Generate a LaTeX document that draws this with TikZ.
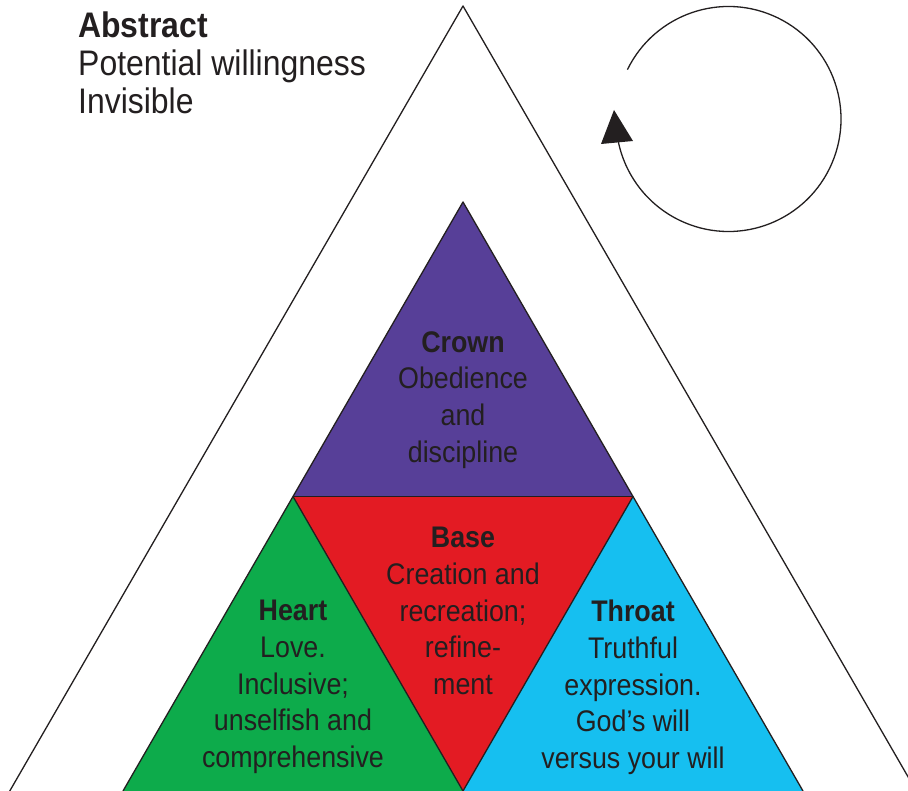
\documentclass[tikz,border=0pt]{standalone}
\usepackage{fontspec}
\setmainfont{Liberation Sans}[FakeStretch=0.9]
\definecolor{crownc}{HTML}{573F98}
\definecolor{basec}{HTML}{E31B23}
\definecolor{heartc}{HTML}{0DAB4B}
\definecolor{throatc}{HTML}{16BFF0}
\definecolor{txt}{HTML}{231F20}
\begin{document}
\begin{tikzpicture}[x=1pt,y=-1pt,
  outline/.style={draw=txt, line width=1.3pt, line join=round},
  lbl/.style={align=center, anchor=north, inner sep=0pt, text=txt,
    font=\fontsize{29.8}{36.7}\selectfont}]
\useasboundingbox (0,0) rectangle (908,791);
\clip (0,0) rectangle (908,791);
\fill[white] (0,0) rectangle (908,791);
% outer triangle
\coordinate (apex) at (463,6);
\coordinate (ol) at (1.1,806);
\coordinate (or) at (924.9,806);
\draw[outline] (ol) -- (apex) -- (or);
% inner triangles
\coordinate (a) at (463,202);
\coordinate (b) at (293,496.5);
\coordinate (c) at (633,496.5);
\coordinate (d) at (123,791);
\coordinate (e) at (463,791);
\coordinate (f) at (803,791);
\fill[crownc] (a) -- (b) -- (c) -- cycle;
\fill[basec] (b) -- (c) -- (e) -- cycle;
\fill[heartc] (b) -- (d) -- (e) -- cycle;
\fill[throatc] (c) -- (e) -- (f) -- cycle;
\draw[outline] (d) -- (a) -- (f);
\draw[outline] (b) -- (c);
\draw[outline] (b) -- (e) -- (c);
% labels
\node[lbl] (crown) at (463,331) {\textbf{Crown}\\Obedience\\and\\discipline};
\node[lbl] (base) at (463,527) {\textbf{Base}\\Creation and\\recreation;\\refine-\\ment};
\node[lbl] (heart) at (293,600) {\textbf{Heart}\\Love.\\Inclusive;\\unselfish and\\comprehensive};
\node[lbl] (throat) at (633,600) {\textbf{Throat}\\Truthful\\expression.\\God’s will\\versus your will};
\node[align=left, anchor=north west, inner sep=0pt, text=txt,
  font=\fontsize{35.5}{38}\selectfont] (abstract) at (78,11.5)
  {\textbf{Abstract}\\Potential willingness\\Invisible};
% cycle arrow
\coordinate (cc) at (728.5,119);
\draw[outline] ([shift={(206:112.5)}]cc) arc[start angle=206, end angle=529, radius=112.5];
\coordinate (tip) at (614,110);
\coordinate (bl) at (601,144);
\coordinate (br) at (633,141);
\fill[txt] (tip) -- (bl) -- (br) -- cycle;
\end{tikzpicture}
\end{document}
